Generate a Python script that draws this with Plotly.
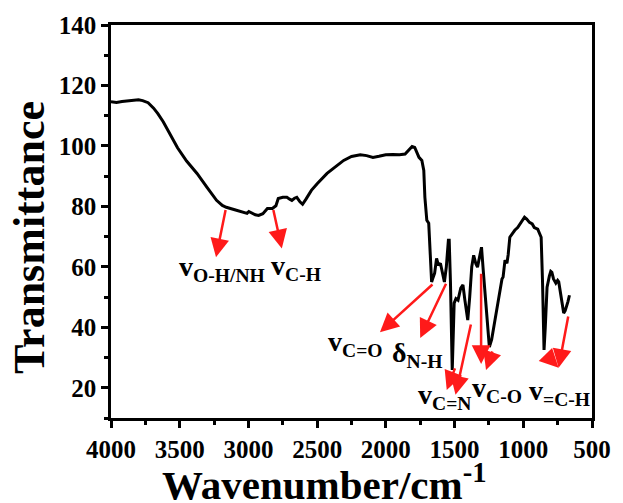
import plotly.graph_objects as go

wavenumber = [4000, 3960, 3920, 3880, 3840, 3800, 3770, 3730, 3690, 3659, 3620, 3580, 3516, 3450, 3374,
              3300, 3232, 3190, 3161, 3100, 3040, 3010, 2997, 2980, 2950, 2926, 2895, 2862, 2826, 2800,
              2783, 2750, 2720, 2700, 2684, 2665, 2648, 2625, 2606, 2580, 2542, 2500, 2428, 2370, 2307,
              2250, 2186, 2140, 2094, 2050, 2001, 1950, 1901, 1860, 1830, 1809, 1790, 1773, 1759, 1738,
              1724, 1716, 1702, 1688, 1681, 1672, 1667, 1660, 1645, 1631, 1617, 1603, 1590, 1574, 1560,
              1545, 1539, 1530, 1517, 1510, 1503, 1490, 1475, 1455, 1439, 1425, 1404, 1390, 1375, 1361,
              1345, 1333, 1320, 1304, 1290, 1275, 1260, 1247, 1230, 1204, 1185, 1169, 1155, 1147, 1133,
              1119, 1110, 1098, 1080, 1062, 1041, 1020, 1005, 991, 975, 955, 935, 920, 895, 870,
              860, 849, 840, 827, 810, 800, 792, 780, 763, 750, 742, 730, 721, 706, 695,
              685, 675, 664]
transmittance = [114.6, 114.4, 114.7, 114.9, 115.0, 115.3, 115.0, 114.3, 112.5, 110.7, 108.0, 104.5, 99.4, 95.0, 90.9,
                 86.2, 82.0, 80.3, 79.7, 78.9, 78.0, 77.7, 78.3, 77.8, 77.2, 77.0, 77.6, 79.3, 79.3, 80.2,
                 82.6, 83.0, 83.0, 82.4, 82.0, 82.7, 83.0, 81.5, 80.7, 82.5, 85.3, 87.5, 90.9, 93.0, 95.2,
                 96.5, 97.1, 96.8, 96.2, 96.6, 97.1, 97.2, 97.1, 97.3, 98.8, 99.8, 99.5, 97.4, 96.2, 95.2,
                 91.9, 83.0, 75.4, 74.4, 66.5, 58.0, 55.0, 56.0, 57.9, 62.8, 60.5, 61.2, 58.0, 55.0, 60.0,
                 68.8, 68.8, 55.0, 25.9, 35.0, 48.0, 49.5, 49.0, 53.0, 54.0, 49.0, 42.4, 50.0, 60.0, 63.8,
                 61.0, 59.9, 63.0, 66.5, 58.0, 49.0, 40.0, 33.5, 36.0, 43.4, 48.0, 53.3, 56.0, 56.6, 62.2,
                 61.2, 64.0, 69.8, 71.0, 72.1, 73.0, 74.5, 75.8, 76.4, 75.8, 74.7, 74.2, 73.0, 72.5, 69.8,
                 55.0, 32.5, 40.0, 53.3, 57.0, 58.5, 58.2, 56.0, 54.6, 55.5, 55.0, 52.0, 49.0, 44.7, 45.5,
                 46.7, 48.5, 50.6]

x_ticks = [4000, 3500, 3000, 2500, 2000, 1500, 1000, 500]
y_ticks = [20, 40, 60, 80, 100, 120, 140]

# band labels: (text, x, y)
labels = [
    ("v<sub>O-H/NH</sub>", 3521, 59.6),
    ("v<sub>C-H</sub>", 2850, 59.9),
    ("v<sub>C=O</sub>", 2436, 34.5),
    ("δ<sub>N-H</sub>", 1971, 30.9),
    ("v<sub>C=N</sub>", 1779, 17.0),
    ("v<sub>C-O</sub>", 1386, 19.3),
    ("v<sub>=C-H</sub>", 971, 18.3),
]
# arrows: (tail_x, tail_y, head_x, head_y)
arrows = [
    (3164, 79.3, 3236, 63.2),
    (2821, 79.3, 2757, 66.1),
    (1650, 54.6, 2043, 38.4),
    (1557, 54.9, 1750, 36.5),
    (1493, 26.9, 1557, 19.3),
    (1379, 41.4, 1493, 17.7),
    (1307, 58.2, 1307, 27.9),
    (1221, 32.5, 1271, 25.9),
    (843, 31.2, 743, 26.6),
    (671, 44.1, 743, 26.6),
]

FONT = "Liberation Serif"

fig = go.Figure()
fig.add_trace(go.Scatter(x=wavenumber, y=transmittance, mode="lines",
                         line=dict(color="black", width=3), showlegend=False))

anns = []
for t, x, y in labels:
    anns.append(dict(text=t, x=x, y=y, xref="x", yref="y", showarrow=False,
                     xanchor="left", yanchor="middle",
                     font=dict(family=FONT, size=28, color="black", weight="bold")))
for tx, ty, hx, hy in arrows:
    anns.append(dict(text="", x=hx, y=hy, ax=tx, ay=ty, xref="x", yref="y",
                     axref="x", ayref="y", showarrow=True, arrowhead=2,
                     arrowsize=1.5, arrowwidth=2.5, arrowcolor="#ff1a1a", standoff=0))
anns.append(dict(text="Transmittance", xref="paper", yref="paper", x=-0.171, y=0.46,
                 textangle=-90, showarrow=False, xanchor="center", yanchor="middle",
                 font=dict(family=FONT, size=44, color="black", weight="bold")))
anns.append(dict(text="Wavenumber/cm<sup>-1</sup>", xref="paper", yref="paper", x=0.444, y=-0.163,
                 showarrow=False, xanchor="center", yanchor="middle",
                 font=dict(family=FONT, size=41, color="black", weight="bold")))

axis_common = dict(showline=True, linewidth=2.5, linecolor="black", mirror=True,
                   ticks="outside", ticklen=7, tickwidth=2.5, tickcolor="black",
                   showgrid=False, zeroline=False,
                   tickfont=dict(family=FONT, size=25, color="black", weight="bold"))

fig.update_layout(
    width=623, height=503,
    margin=dict(l=111, r=22, t=24, b=85),
    paper_bgcolor="white", plot_bgcolor="white",
    xaxis=dict(range=[4000, 500], tickvals=x_ticks,
               minor=dict(dtick=250, ticks="outside", ticklen=4, tickwidth=2.5, tickcolor="black"),
               **axis_common),
    yaxis=dict(range=[10, 140], tickvals=y_ticks,
               minor=dict(dtick=10, ticks="outside", ticklen=4, tickwidth=2.5, tickcolor="black"),
               **axis_common),
    annotations=anns,
)
fig.write_html("out.html")
